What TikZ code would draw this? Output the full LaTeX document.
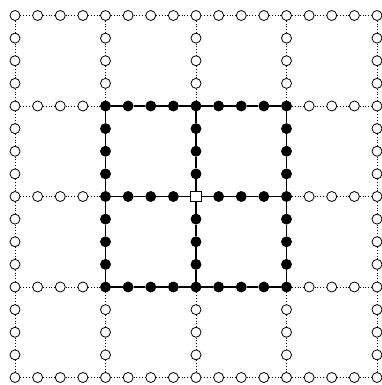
\documentclass[tikz,border=0pt]{standalone}
\begin{document}
\begin{tikzpicture}[x=1pt,y=-1pt,
  open/.style={circle,draw,fill=white,inner sep=0pt,minimum size=10pt,line width=0.8pt},
  full/.style={circle,draw,fill=black,inner sep=0pt,minimum size=10pt,line width=0.8pt},
  ctr/.style={rectangle,draw,fill=white,inner sep=0pt,minimum size=10.5pt,line width=0.8pt},
  dotedge/.style={dotted,line width=0.8pt},
  solidedge/.style={line width=1.4pt}]
\useasboundingbox (0,0) rectangle (382,385);
\foreach \i in {0,...,16}{
  \foreach \j in {0,...,16}{
    \pgfmathtruncatemacro\onl{(mod(\i,4)==0 || mod(\j,4)==0) ? 1 : 0}
    \ifnum\onl=1
      \pgfmathtruncatemacro\typ{(\i==8 && \j==8) ? 2 : ((\i>=4 && \i<=12 && \j>=4 && \j<=12) ? 1 : 0)}
      \ifcase\typ \def\sty{open}\or \def\sty{full}\or \def\sty{ctr}\fi
      \pgfmathsetmacro\px{15+22.625*\i}
      \pgfmathsetmacro\py{15.5+22.625*\j}
      \node[\sty] (n-\i-\j) at (\px,\py) {};
    \fi
  }
}
\foreach \a in {0,4,8,12,16}{
  \foreach \b in {0,...,15}{
    \pgfmathtruncatemacro\c{\b+1}
    \pgfmathtruncatemacro\s{(\a>=4 && \a<=12 && \b>=4 && \c<=12) ? 1 : 0}
    \ifnum\s=1 \def\es{solidedge}\else\def\es{dotedge}\fi
    \draw[\es] (n-\b-\a) -- (n-\c-\a);
    \draw[\es] (n-\a-\b) -- (n-\a-\c);
  }
}
\end{tikzpicture}
\end{document}
